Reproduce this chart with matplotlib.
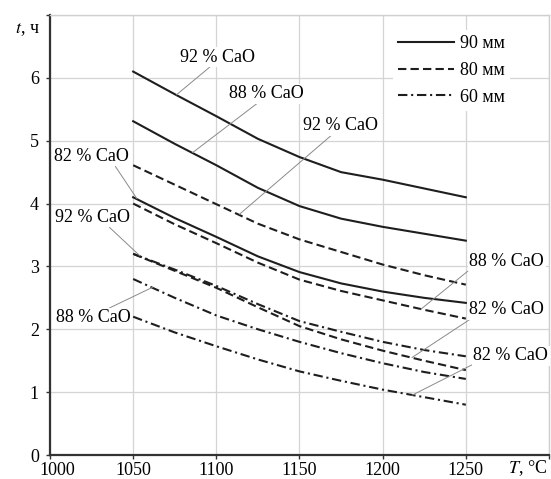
import matplotlib
matplotlib.use("Agg")
import matplotlib.pyplot as plt
from matplotlib.transforms import ScaledTranslation

# temperature, deg C
temps = [1050, 1075, 1100, 1125, 1150, 1175, 1200, 1225, 1250]

# 90 mm (solid)
t90_92 = [6.1, 5.74, 5.39, 5.03, 4.74, 4.5, 4.38, 4.24, 4.1]
t90_88 = [5.31, 4.95, 4.61, 4.25, 3.96, 3.76, 3.63, 3.52, 3.41]
t90_82 = [4.1, 3.77, 3.47, 3.16, 2.91, 2.73, 2.6, 2.5, 2.42]
# 80 mm (dashed)
t80_92 = [4.61, 4.3, 3.99, 3.68, 3.43, 3.23, 3.03, 2.86, 2.71]
t80_88 = [4.0, 3.67, 3.37, 3.06, 2.79, 2.61, 2.46, 2.31, 2.17]
t80_82 = [3.2, 2.93, 2.66, 2.35, 2.05, 1.84, 1.66, 1.5, 1.35]
# 60 mm (dash-dot)
t60_92 = [3.2, 2.95, 2.69, 2.4, 2.13, 1.96, 1.8, 1.67, 1.57]
t60_88 = [2.8, 2.5, 2.22, 2.0, 1.8, 1.62, 1.46, 1.32, 1.21]
t60_82 = [2.2, 1.95, 1.73, 1.52, 1.33, 1.18, 1.04, 0.92, 0.8]

x_ticks = [1000, 1050, 1100, 1150, 1200, 1250, 1300]
x_labels = ['1000', '1050', '1100', '1150', '1200', '1250', '']
y_ticks = [0, 1, 2, 3, 4, 5, 6, 7]
y_labels = ['0', '1', '2', '3', '4', '5', '6', '']

legend_names = ['90 мм', '80 мм', '60 мм']

plt.rcParams['font.family'] = ['Liberation Serif', 'DejaVu Serif']
plt.rcParams['mathtext.fontset'] = 'stix'
plt.rcParams['font.size'] = 13

fig = plt.figure(figsize=(5.51, 4.79), dpi=100)
ax = fig.add_axes([50/551, 24/479, 499/551, 440/479])

line_col = '#1e1e1e'
solid = '-'
dashed = (0, (4, 2))
dashdot = (0, (4.5, 1.8, 1, 1.8))

l1, = ax.plot(temps, t90_92, color=line_col, lw=1.5, ls=solid, zorder=3)
ax.plot(temps, t90_88, color=line_col, lw=1.5, ls=solid, zorder=3)
ax.plot(temps, t90_82, color=line_col, lw=1.5, ls=solid, zorder=3)
l2, = ax.plot(temps, t80_92, color=line_col, lw=1.5, ls=dashed, zorder=3)
ax.plot(temps, t80_88, color=line_col, lw=1.5, ls=dashed, zorder=3)
ax.plot(temps, t80_82, color=line_col, lw=1.5, ls=dashed, zorder=3)
l3, = ax.plot(temps, t60_92, color=line_col, lw=1.5, ls=dashdot, zorder=3)
ax.plot(temps, t60_88, color=line_col, lw=1.5, ls=dashdot, zorder=3)
ax.plot(temps, t60_82, color=line_col, lw=1.5, ls=dashdot, zorder=3)

ax.set_xlim(1000, 1300)
ax.set_ylim(0, 7)
ax.set_xticks(x_ticks)
ax.set_xticklabels(x_labels)
ax.set_yticks(y_ticks)
ax.set_yticklabels(y_labels)
ax.tick_params(axis='both', direction='out', length=3, width=1, colors='#333333', labelcolor='black')
ax.tick_params(axis='y', pad=5)
ax.tick_params(axis='x', pad=2)

# first x label sits a bit to the right, clear of the "0"
lab0 = ax.xaxis.get_major_ticks()[0].label1
lab0.set_transform(lab0.get_transform() + ScaledTranslation(0.07, 0, fig.dpi_scale_trans))

ax.grid(True, color='#d4d4d4', lw=0.9, zorder=0)
ax.set_axisbelow(True)
for s in ['left', 'bottom']:
    ax.spines[s].set_color('#333333')
    ax.spines[s].set_linewidth(1.6)
for s in ['top', 'right']:
    ax.spines[s].set_color('#cfcfcf')
    ax.spines[s].set_linewidth(1.0)

ax.text(-0.07, 0.966, '$t$, ч', transform=ax.transAxes, ha='left', va='center')
ax.text(0.997, -0.03, '$T$, °C', transform=ax.transAxes, ha='right', va='center')

leg = ax.legend([l1, l2, l3], legend_names, loc='upper left',
                bbox_to_anchor=(0.687, 0.966), frameon=True, fancybox=False,
                handlelength=3.1, handletextpad=0.3, labelspacing=0.53,
                borderpad=0.3, borderaxespad=0)
leg.get_frame().set_facecolor('white')
leg.get_frame().set_edgecolor('none')
leg.get_frame().set_alpha(1)

# labels: text, text position, point on curve, leader start on label box
labels = [
    ('92 % CaO', (1100.7, 6.33), (1076, 5.73), (0.42, 0)),
    ('88 % CaO', (1130.1, 5.75), (1085.7, 4.81), (0.4, 0)),
    ('92 % CaO', (1174.5, 5.24), (1113.9, 3.83), (0.4, 0)),
    ('82 % CaO', (1025.2, 4.75), (1052.2, 4.08), (0.8, 0)),
    ('92 % CaO', (1025.8, 3.78), (1054, 3.17), (0.7, 0)),
    ('88 % CaO', (1025.8, 2.18), (1061.8, 2.67), (0.68, 1)),
    ('88 % CaO', (1274.6, 3.08), (1223, 2.32), (0.0, 0)),
    ('82 % CaO', (1274.6, 2.31), (1217.6, 1.55), (0.03, 0)),
    ('82 % CaO', (1277, 1.58), (1217.6, 0.95), (0.0, 0)),
]
for txt, pos, pt, rp in labels:
    ax.annotate(txt, xy=pt, xytext=pos, ha='center', va='center', zorder=5,
                bbox=dict(boxstyle='square,pad=0.08', fc='white', ec='none'),
                arrowprops=dict(arrowstyle='-', color='#8a8a8a', lw=0.7,
                                relpos=rp, shrinkA=0, shrinkB=0))

fig.savefig('out.png', dpi=100)
